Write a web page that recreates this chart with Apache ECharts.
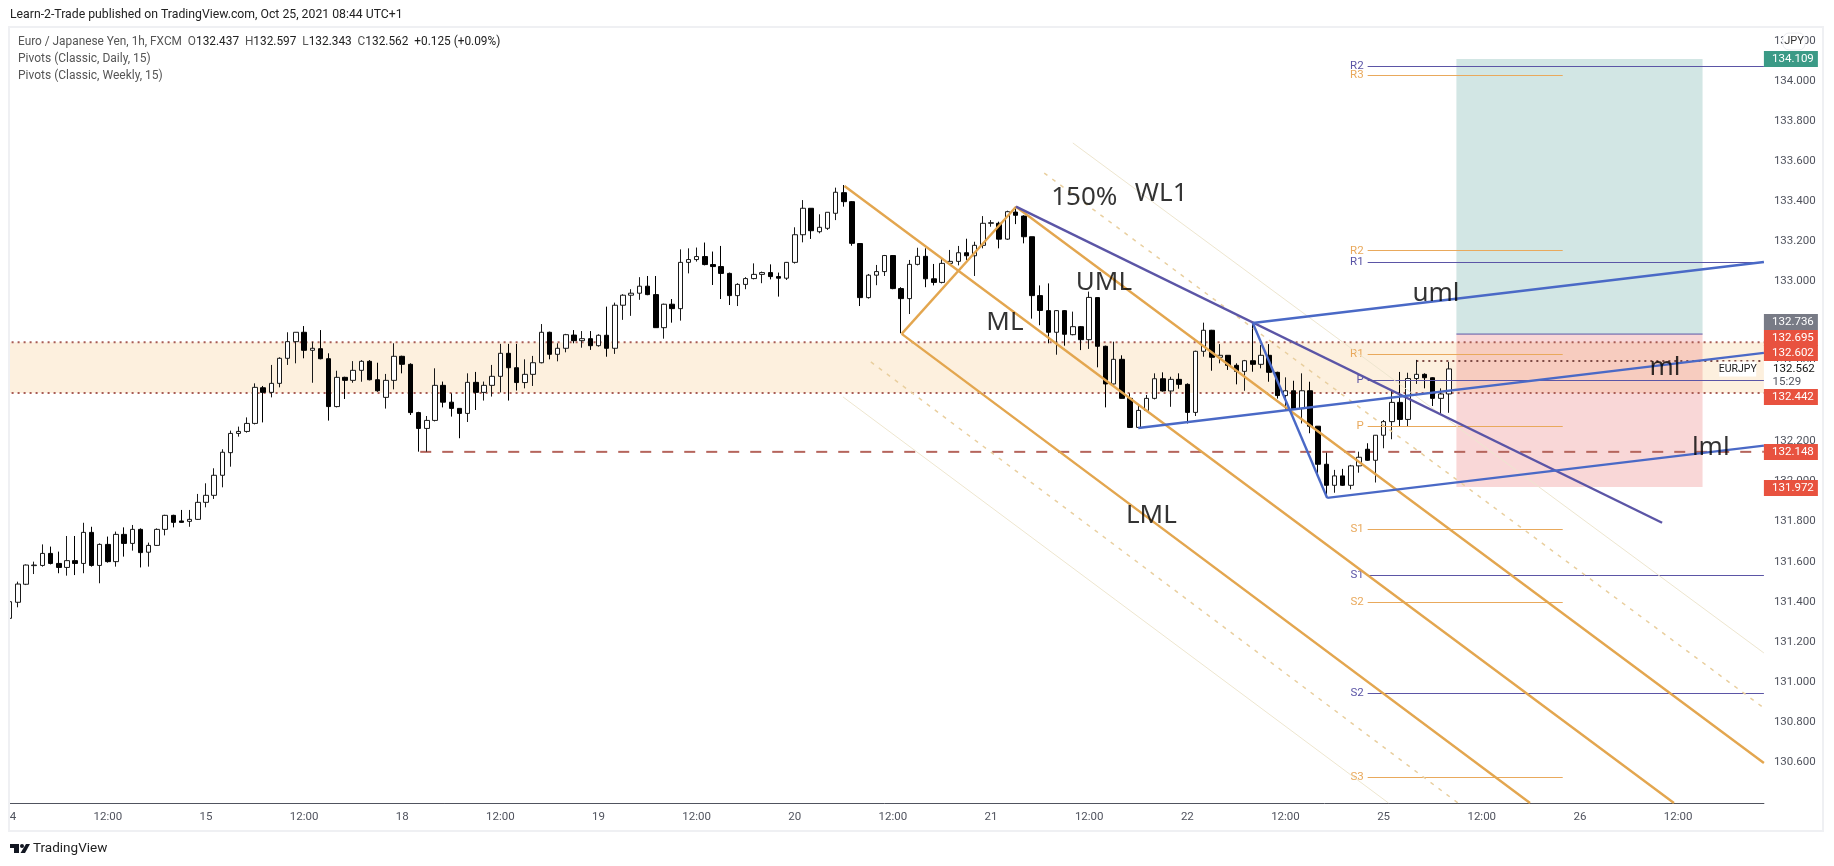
<!DOCTYPE html>
<html>
<head>
<meta charset="utf-8">
<title>EUR/JPY 1h</title>
<style>
    html, body { margin: 0; padding: 0; background: #fff; }
    #chart { width: 1834px; height: 866px; }
</style>
</head>
<body>
<div id="chart"></div>
<script src="https://cdn.jsdelivr.net/npm/echarts@6/dist/echarts.min.js"></script>
<script>
    // candles
    const opens = [
        131.317,131.397,131.487,131.580,131.581,131.641,131.591,131.571,131.605,131.591,
        131.746,131.581,131.686,131.600,131.736,131.691,131.761,131.647,131.681,131.761,
        131.831,131.803,131.801,131.811,131.896,131.931,132.031,132.144,132.240,132.250,
        132.290,132.468,132.445,132.490,132.615,132.698,132.745,132.655,132.663,132.613,
        132.374,132.520,132.505,132.555,132.600,132.508,132.420,132.505,132.625,132.585,
        132.344,132.265,132.305,132.480,132.396,132.365,132.340,132.495,132.445,132.480,
        132.525,132.640,132.568,132.494,132.535,132.593,132.745,132.635,132.665,132.731,
        132.703,132.713,132.678,132.730,132.665,132.880,132.930,132.940,132.975,132.933,
        132.768,132.885,132.863,133.094,133.108,133.123,133.083,133.073,133.039,132.928,
        132.984,133.013,133.034,133.043,133.023,133.015,133.094,133.232,133.364,133.247,
        133.264,133.339,133.442,133.397,133.188,132.918,133.030,133.048,133.128,132.963,
        132.913,133.084,133.124,133.012,132.994,133.089,133.099,133.142,133.127,133.179,
        133.289,133.289,133.210,133.345,133.325,133.222,132.928,132.853,132.745,132.853,
        132.733,132.773,132.708,132.918,132.675,132.487,132.610,132.415,132.270,132.355,
        132.415,132.513,132.452,132.510,132.485,132.345,132.650,132.755,132.620,132.630,
        132.580,132.550,132.603,132.585,132.630,132.545,132.429,132.453,132.364,132.453,
        132.276,132.086,131.981,132.028,131.981,132.078,132.161,132.106,132.231,132.299,
        132.395,132.310,132.514,132.535,132.518,132.415,132.437
    ];
    const highs = [
        131.408,131.500,131.586,131.600,131.686,131.675,131.650,131.728,131.728,131.794,
        131.774,131.691,131.725,131.750,131.771,131.783,131.766,131.695,131.766,131.834,
        131.834,131.858,131.858,131.938,131.991,132.066,132.161,132.254,132.274,132.320,
        132.490,132.477,132.582,132.620,132.745,132.745,132.776,132.698,132.756,132.640,
        132.553,132.523,132.601,132.606,132.606,132.593,132.537,132.690,132.628,132.590,
        132.348,132.327,132.565,132.499,132.440,132.365,132.540,132.547,132.499,132.582,
        132.687,132.687,132.687,132.610,132.627,132.786,132.748,132.690,132.737,132.756,
        132.751,132.751,132.735,132.873,132.893,132.935,132.960,133.020,133.026,133.026,
        132.888,132.911,133.159,133.164,133.168,133.193,133.148,133.176,133.043,132.990,
        133.020,133.089,133.048,133.084,133.043,133.096,133.269,133.405,133.364,133.334,
        133.344,133.467,133.480,133.400,133.190,133.036,133.081,133.131,133.129,132.970,
        133.106,133.167,133.164,133.086,133.114,133.156,133.176,133.212,133.197,133.325,
        133.305,133.297,133.352,133.372,133.329,133.222,132.979,132.989,132.856,132.856,
        132.848,132.776,132.948,132.919,132.678,132.698,132.630,132.440,132.377,132.432,
        132.540,132.545,132.523,132.540,132.490,132.653,132.793,132.757,132.686,132.630,
        132.590,132.607,132.790,132.681,132.686,132.548,132.520,132.503,132.540,132.498,
        132.277,132.144,132.058,132.063,132.083,132.149,132.191,132.232,132.307,132.453,
        132.547,132.543,132.607,132.540,132.520,132.465,132.597
    ];
    const lows = [
        131.309,131.372,131.483,131.538,131.575,131.586,131.542,131.530,131.533,131.542,
        131.575,131.492,131.595,131.575,131.625,131.655,131.571,131.575,131.678,131.731,
        131.771,131.794,131.774,131.808,131.871,131.913,131.971,132.074,132.224,132.244,
        132.285,132.295,132.420,132.470,132.582,132.590,132.615,132.493,132.610,132.304,
        132.370,132.412,132.493,132.498,132.505,132.448,132.364,132.460,132.540,132.332,
        132.149,132.149,132.300,132.370,132.324,132.216,132.297,132.357,132.404,132.424,
        132.445,132.404,132.454,132.465,132.477,132.590,132.610,132.600,132.645,132.690,
        132.668,132.657,132.673,132.623,132.637,132.807,132.827,132.907,132.930,132.767,
        132.713,132.793,132.803,133.039,133.098,133.079,132.981,132.911,132.881,132.876,
        132.960,133.009,132.990,133.009,132.923,133.006,133.088,133.194,133.211,133.239,
        133.256,133.305,133.372,133.177,132.876,132.913,132.980,133.026,132.960,132.740,
        132.836,133.079,132.970,132.979,132.989,133.083,133.079,133.106,133.026,133.164,
        133.272,133.164,133.206,133.285,133.189,132.813,132.780,132.690,132.633,132.678,
        132.730,132.656,132.662,132.570,132.370,132.484,132.414,132.267,132.267,132.350,
        132.410,132.449,132.373,132.463,132.290,132.327,132.623,132.553,132.590,132.557,
        132.485,132.453,132.548,132.565,132.498,132.414,132.357,132.360,132.290,132.241,
        132.033,131.924,131.944,131.978,131.961,132.044,132.103,131.995,132.166,132.211,
        132.277,132.277,132.487,132.465,132.377,132.337,132.343
    ];
    const closes = [
        131.400,131.488,131.583,131.583,131.641,131.591,131.571,131.605,131.591,131.746,
        131.581,131.686,131.600,131.736,131.691,131.761,131.645,131.681,131.761,131.831,
        131.796,131.796,131.811,131.896,131.931,132.031,132.146,132.240,132.250,132.290,
        132.470,132.445,132.490,132.615,132.698,132.745,132.655,132.665,132.613,132.374,
        132.520,132.505,132.555,132.600,132.508,132.453,132.505,132.625,132.585,132.344,
        132.265,132.305,132.480,132.396,132.365,132.340,132.495,132.445,132.480,132.525,
        132.640,132.568,132.494,132.535,132.593,132.745,132.635,132.665,132.733,132.703,
        132.713,132.678,132.730,132.665,132.880,132.930,132.940,132.975,132.933,132.768,
        132.885,132.863,133.094,133.108,133.123,133.083,133.073,133.039,132.928,132.984,
        133.013,133.034,133.043,133.023,133.015,133.094,133.232,133.364,133.252,133.269,
        133.344,133.444,133.397,133.189,132.918,133.030,133.048,133.128,132.963,132.913,
        133.084,133.124,133.012,132.994,133.089,133.099,133.142,133.127,133.179,133.289,
        133.292,133.210,133.347,133.329,133.222,132.928,132.854,132.745,132.853,132.735,
        132.773,132.708,132.919,132.675,132.487,132.610,132.415,132.270,132.355,132.415,
        132.513,132.452,132.510,132.485,132.345,132.650,132.755,132.620,132.630,132.580,
        132.550,132.603,132.585,132.630,132.545,132.429,132.453,132.364,132.453,132.276,
        132.086,131.981,132.028,131.981,132.078,132.121,132.106,132.231,132.299,132.395,
        132.310,132.514,132.535,132.518,132.415,132.437,132.562
    ];

    // time and price axes
    const dayLabels = ['14', '15', '18', '19', '20', '21', '22', '25', '26'];
    const barsPerDay = 24;
    const barCount = 215;
    const yTicks = [130.6, 130.8, 131, 131.2, 131.4, 131.6, 131.8, 132, 132.2, 132.4, 132.6, 132.8, 133, 133.2, 133.4, 133.6, 133.8, 134, 134.2];
    const priceMin = 130.395;
    const priceMax = 134.269;
    const barMin = -0.5;
    const barMax = 214.5;

    // pivots, as [bar, price] ends
    const pivotStart = 166.05;
    const dailyEnd = 189.9;
    const dailyNames = ['R3', 'R2', 'R1', 'P', 'S1', 'S2', 'S3'];
    const dailyLevels = [134.030, 133.152, 132.637, 132.274, 131.761, 131.398, 130.523];
    const weeklyNames = ['R2', 'R1', 'P', 'S1', 'S2'];
    const weeklyLevels = [134.074, 133.097, 132.504, 131.533, 130.943];

    // drawing tools, [bar, price]
    const forkHandle = [[109.07, 132.737], [123.05, 133.372]];
    const forkMedian = [[102.07, 133.475], [203.5, 130.395]];
    const forkUpper = [[123.05, 133.372], [214.5, 130.595]];
    const forkLower = [[109.07, 132.737], [185.9, 130.395]];
    const upper150 = [[126.5, 133.540], [214.5, 130.869]];
    const lower150 = [[105.3, 132.597], [177.1, 130.395]];
    const upperWarn = [[130.0, 133.690], [214.5, 131.144]];
    const lowerWarn = [[101.9, 132.422], [168.6, 130.395]];
    const purpleTrend = [[123.05, 133.372], [202.05, 131.794]];
    const blueHandle = [[152.0, 132.791], [161.1, 131.918]];
    const blueUpper = [[152.0, 132.791], [214.5, 133.096]];
    const blueMedian = [[138.0, 132.267], [214.5, 132.642]];
    const blueLower = [[161.1, 131.918], [214.5, 132.179]];

    // horizontal levels
    const bandTop = 132.695;
    const bandBottom = 132.442;
    const dashedLevel = 132.148;
    const dashedFrom = 50.2;
    const dottedLevel = 132.602;
    const dottedFrom = 172;
    const positionFrom = 176.9;
    const positionTo = 207;
    const positionTarget = 134.109;
    const positionEntry = 132.736;
    const positionStop = 131.972;

    // hand written notes on the chart
    const noteTexts = ['150%', 'WL1', 'UML', 'ML', 'LML', 'uml', 'ml', 'lml'];
    const noteBars = [131.4, 140.8, 133.8, 121.7, 139.6, 174.4, 202.4, 208];
    const notePrices = [133.417, 133.435, 132.994, 132.791, 131.828, 132.936, 132.570, 132.170];

    // price tags on the scale, levels moved apart like the original does
    const tagTexts = ['134.109', '132.736', '132.695', '132.602', '132.442', '132.148', '131.972'];
    const tagLevels = [134.109, 132.796, 132.717, 132.642, 132.422, 132.147, 131.968];
    const tagColors = ['#3b9a86', '#787b86', '#e8523f', '#e8523f', '#e8523f', '#e8523f', '#e8523f'];
    const lastPrice = 132.562;
    const countdown = '15:29';
    const countdownLevel = 132.497;
    const symbolName = 'EURJPY';
    const symbolBar = 211.3;

    const fontName = 'Roboto, sans-serif';
    const orange = '#e3a64f';
    const purple = '#5b55a6';
    const blue = '#4a69c6';

    let categories = [];
    for (let i = 0; i < barCount; i++) {
        let day = dayLabels[Math.floor(i / barsPerDay)];
        if (i % barsPerDay === 0) categories.push(day);
        else if (i % (barsPerDay / 2) === 0) categories.push('12:00');
        else categories.push('');
    }

    function drawLine(data, color, width, type, z) {
        return {
            type: 'line', xAxisIndex: 1, data: data, symbol: 'none', silent: true, z: z || 6,
            lineStyle: { color: color, width: width, type: type || 'solid', cap: 'butt' }
        };
    }

    function pivotSeries(names, levels, end, color) {
        return {
            type: 'line', xAxisIndex: 1, data: [], symbol: 'none', silent: true, z: 5,
            markLine: {
                silent: true, symbol: 'none', animation: false,
                lineStyle: { color: color, width: 1, type: 'solid' },
                label: { position: 'start', formatter: '{b}', color: color, fontSize: 11.5, fontFamily: fontName, distance: 4 },
                data: names.map((name, i) => [
                    { name: name, coord: [pivotStart, levels[i]] },
                    { coord: [end, levels[i]] }
                ])
            }
        };
    }

    function areaSeries(from, to, top, bottom, color, z) {
        return {
            type: 'line', xAxisIndex: 1, data: [], symbol: 'none', silent: true, z: z,
            markArea: {
                silent: true, animation: false, itemStyle: { color: color },
                data: [[{ coord: [from, top] }, { coord: [to, bottom] }]]
            }
        };
    }

    let series = [
        areaSeries(barMin, barMax, bandTop, bandBottom, '#fdf0de', 1),
        areaSeries(positionFrom, positionTo, positionTarget, positionEntry, '#d2e6e4', 2),
        areaSeries(positionFrom, positionTo, positionEntry, positionStop, 'rgba(232, 110, 110, 0.28)', 2),
        {
            type: 'candlestick',
            data: opens.map((o, i) => [o, closes[i], lows[i], highs[i]]),
            barWidth: 5,
            silent: true,
            z: 4,
            itemStyle: { color: '#fff', color0: '#000', borderColor: '#1a1a1a', borderColor0: '#000', borderWidth: 1 }
        },
        pivotSeries(dailyNames, dailyLevels, dailyEnd, '#e9a95c'),
        pivotSeries(weeklyNames, weeklyLevels, barMax, purple),
        drawLine([[barMin, bandTop], [barMax, bandTop]], '#a95c55', 2, [2, 4], 3),
        drawLine([[barMin, bandBottom], [barMax, bandBottom]], '#a95c55', 2, [2, 4], 3),
        drawLine([[dottedFrom, dottedLevel], [barMax, dottedLevel]], '#7d4a45', 2, [2, 4], 3),
        drawLine([[dashedFrom, dashedLevel], [barMax, dashedLevel]], '#b5655c', 2, [11, 11], 3),
        drawLine([[positionFrom, positionEntry], [positionTo, positionEntry]], purple, 1),
        drawLine(upperWarn, '#eee6cf', 1),
        drawLine(lowerWarn, '#eee6cf', 1),
        drawLine(upper150, '#e9cf9f', 1.5, [4, 6]),
        drawLine(lower150, '#e9cf9f', 1.5, [4, 6]),
        drawLine(forkHandle, orange, 2.4),
        drawLine(forkMedian, orange, 2.4),
        drawLine(forkUpper, orange, 2.4),
        drawLine(forkLower, orange, 2.4),
        drawLine(purpleTrend, purple, 2.4),
        drawLine(blueHandle, blue, 2.4),
        drawLine(blueUpper, blue, 2.4),
        drawLine(blueMedian, blue, 2.4),
        drawLine(blueLower, blue, 2.4),
        {
            // notes
            type: 'scatter', xAxisIndex: 1, silent: true, z: 8, symbolSize: 1,
            itemStyle: { color: 'transparent' },
            data: noteTexts.map((text, i) => ({ value: [noteBars[i], notePrices[i]], name: text })),
            label: { show: true, position: 'inside', formatter: '{b}', color: '#000', fontSize: 26, fontFamily: '"Noto Sans", sans-serif' }
        },
        {
            // symbol name next to the scale
            type: 'scatter', xAxisIndex: 1, silent: true, z: 9, symbol: 'rect', symbolSize: [37, 15],
            itemStyle: { color: '#fff', opacity: 1 },
            data: [{ value: [symbolBar, lastPrice], name: symbolName }],
            label: { show: true, position: 'inside', formatter: '{b}', color: '#222', fontSize: 10.5, fontFamily: fontName }
        },
        {
            // last price and countdown
            type: 'scatter', xAxisIndex: 1, silent: true, z: 9, clip: false, symbol: 'rect',
            symbolSize: [54, 14], symbolOffset: [28, 0],
            itemStyle: { color: '#fff', opacity: 1 },
            data: [
                { value: [barMax, lastPrice], name: lastPrice.toFixed(3), label: { color: '#111' } },
                { value: [barMax, countdownLevel], name: countdown, label: { color: '#50535e', offset: [-5, 0] } }
            ],
            label: { show: true, position: 'inside', formatter: '{b}', fontSize: 11.5, fontFamily: fontName, offset: [2, 0] }
        },
        {
            // coloured tags
            type: 'scatter', xAxisIndex: 1, silent: true, z: 10, clip: false, symbol: 'rect',
            symbolSize: [54, 16], symbolOffset: [27, 0],
            itemStyle: { opacity: 1 },
            data: tagTexts.map((text, i) => ({ value: [barMax, tagLevels[i]], name: text, itemStyle: { color: tagColors[i], opacity: 1 } })),
            label: { show: true, position: 'inside', formatter: '{b}', color: '#fff', fontSize: 11.5, fontFamily: fontName, offset: [2, 0] }
        }
    ];

    let chart = echarts.init(document.getElementById('chart'));
    chart.setOption({
        animation: false,
        backgroundColor: '#fff',
        tooltip: { show: false },
        grid: { left: 5.6, top: 27, width: 1758.3, height: 776 },
        xAxis: [
            {
                type: 'category', data: categories,
                axisLine: { lineStyle: { color: '#50535e', width: 1 } },
                axisTick: { show: false },
                splitLine: { show: false },
                axisLabel: {
                    interval: (i, value) => value !== '',
                    color: '#50535e', fontSize: 11.5, fontFamily: fontName, margin: 8
                }
            },
            { type: 'value', min: barMin, max: barMax, show: false, splitLine: { show: false } }
        ],
        yAxis: {
            type: 'value', position: 'right', min: priceMin, max: priceMax, scale: true,
            axisLine: { show: true, lineStyle: { color: '#50535e', width: 1 } },
            axisTick: { show: false },
            splitLine: { show: false },
            axisLabel: {
                customValues: yTicks,
                formatter: v => v.toFixed(3),
                color: '#50535e', fontSize: 11.5, fontFamily: fontName, margin: 10
            }
        },
        graphic: [
            { type: 'rect', z: 100, shape: { x: 0, y: 26, width: 8, height: 812 }, style: { fill: '#fff' } },
            { type: 'rect', z: 101, shape: { x: 9, y: 27, width: 1814, height: 804 }, style: { fill: 'none', stroke: '#eff0f3', lineWidth: 2 } },
            { type: 'rect', z: 102, shape: { x: 1783, y: 33, width: 22, height: 17, r: 6 }, style: { fill: '#fff', stroke: '#eceef2' } },
            { type: 'text', z: 103, x: 1794, y: 41.5, style: { text: 'JPY', fill: '#333', font: '11px ' + fontName, align: 'center', verticalAlign: 'middle' } },
            { type: 'text', z: 103, x: 10, y: 15, style: { text: 'Learn-2-Trade published on TradingView.com, Oct 25, 2021 08:44 UTC+1', fill: '#222', font: '12.25px ' + fontName, verticalAlign: 'middle' } },
            {
                type: 'text', z: 103, x: 18, y: 42,
                style: {
                    text: '{g|Euro / Japanese Yen, 1h, FXCM  O}{b|132.437}{g|  H}{b|132.597}{g|  L}{b|132.343}{g|  C}{b|132.562}{b|  +0.125 (+0.09%)}',
                    verticalAlign: 'middle',
                    rich: {
                        g: { fill: '#555', font: '11.85px ' + fontName },
                        b: { fill: '#222', font: '11.85px ' + fontName }
                    }
                }
            },
            { type: 'text', z: 103, x: 18, y: 59, style: { text: 'Pivots (Classic, Daily, 15)', fill: '#555', font: '12px ' + fontName, verticalAlign: 'middle' } },
            { type: 'text', z: 103, x: 18, y: 76, style: { text: 'Pivots (Classic, Weekly, 15)', fill: '#555', font: '12px ' + fontName, verticalAlign: 'middle' } },
            // TradingView mark
            { type: 'polygon', z: 103, shape: { points: [[10, 844], [19, 844], [19, 853], [14, 853], [14, 848], [10, 848]] }, style: { fill: '#131722' } },
            { type: 'circle', z: 103, shape: { cx: 22, cy: 846, r: 2 }, style: { fill: '#131722' } },
            { type: 'polygon', z: 103, shape: { points: [[26, 844], [30, 844], [25, 853], [20.5, 853]] }, style: { fill: '#131722' } },
            { type: 'text', z: 103, x: 33, y: 849, style: { text: 'TradingView', fill: '#222', font: '13.5px ' + fontName, verticalAlign: 'middle' } }
        ],
        series: series
    });
</script>
</body>
</html>
